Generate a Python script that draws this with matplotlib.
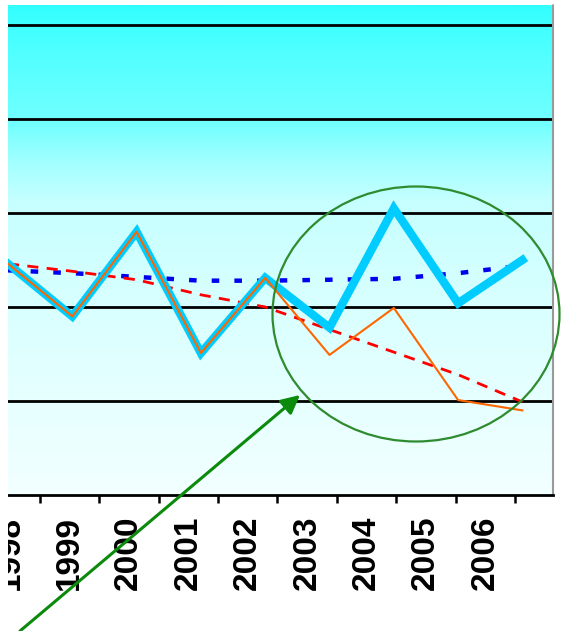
import matplotlib
matplotlib.use("Agg")
import matplotlib.pyplot as plt
import numpy as np
from matplotlib.colors import LinearSegmentedColormap
from matplotlib.patches import Ellipse, Rectangle

# 数据
years = ['1998', '1999', '2000', '2001', '2002', '2003', '2004', '2005', '2006']
cyan_vals = [2.46, 1.90, 2.80, 1.51, 2.31, 1.78, 3.05, 2.04, 2.50]
orange_vals = [2.46, 1.90, 2.80, 1.51, 2.31, 1.49, 1.99, 1.01, 0.90]
red_vals = [2.46, 2.38, 2.29, 2.13, 2.00, 1.76, 1.52, 1.28, 0.99]
blue_vals = [2.39, 2.36, 2.32, 2.28, 2.28, 2.29, 2.30, 2.36, 2.44]

W, H = 561, 631
fig = plt.figure(figsize=(W / 100, H / 100), dpi=100)
ax = fig.add_axes([8 / W, (H - 495) / H, 545 / W, 490 / H])

xmax = 545 / 64.3
ymax = 490 / 94
ax.set_xlim(0, xmax)
ax.set_ylim(0, ymax)

# 渐变背景
cmap = LinearSegmentedColormap.from_list('bg', [
    (0.0, '#F2FFFF'), (0.2, '#E6FFFF'), (0.4, '#D8FFFF'), (0.6, '#C6FFFF'),
    (0.68, '#A2FFFF'), (0.76, '#72FFFF'), (0.9, '#52FFFF'), (1.0, '#33FFFF')])
grad = np.linspace(0, 1, 256).reshape(-1, 1)
ax.imshow(grad, cmap=cmap, origin='lower', aspect='auto',
          extent=(0, xmax, 0, ymax), zorder=0)

# 网格线
for g in range(1, 6):
    ax.axhline(g, color='black', lw=2.0, zorder=1)

x = np.arange(len(years))
ax.plot(x, blue_vals, color='#0000EE', lw=3.2, linestyle=(0, (1.7, 3.4)), zorder=2)
ax.plot(x, red_vals, color='#FF0000', lw=2.0, linestyle=(0, (4, 3)), zorder=3)
ax.plot(x, cyan_vals, color='#00CCFF', lw=6, solid_joinstyle='miter', zorder=4)
ax.plot(x, orange_vals, color='#FF6600', lw=1.5, zorder=5)

# 坐标轴
step = 59.4 / 64.3
off = 2 / 64.3
ax.set_xticks([off + step * (k + 0.5) for k in range(len(years))])
ax.set_xticks([off + step * k for k in range(len(years))], minor=True)
ax.set_xticklabels([])
ax.set_xticklabels(years, minor=True, rotation=90, va='top', ha='center',
                   fontsize=24, fontweight='bold',
                   family=['Liberation Sans Narrow', 'Liberation Sans'])
ax.tick_params(axis='x', which='major', direction='out', length=6, width=1.8, color='black')
ax.tick_params(axis='x', which='minor', length=0, pad=15)
ax.set_yticks([])
for s in ['top', 'left']:
    ax.spines[s].set_visible(False)
ax.spines['bottom'].set_linewidth(2.0)
ax.spines['bottom'].set_zorder(6)
ax.spines['right'].set_color('#999999')
ax.spines['right'].set_linestyle((0, (1, 1)))
ax.spines['right'].set_linewidth(1.5)

# 绿色圆圈和箭头
ell = Ellipse(((416 - 8) / 64.3, (495 - 314) / 94), 287 / 64.3, 255 / 94,
              fill=False, edgecolor='#2E8B2E', lw=1.6, clip_on=False, zorder=7)
ax.add_patch(ell)
ax.annotate('', xy=(292 / 64.3, (495 - 395) / 94), xytext=(12 / 64.3, (495 - 631) / 94),
            annotation_clip=False,
            arrowprops=dict(arrowstyle='-|>', color='#0B8A0B', lw=2.2,
                            mutation_scale=28, shrinkA=0, shrinkB=0), zorder=8)

# 左侧白边
fig.add_artist(Rectangle((0, 0), 8 / W, 1, transform=fig.transFigure,
                         facecolor='white', edgecolor='none', zorder=20))

fig.savefig('out.png', dpi=100)
